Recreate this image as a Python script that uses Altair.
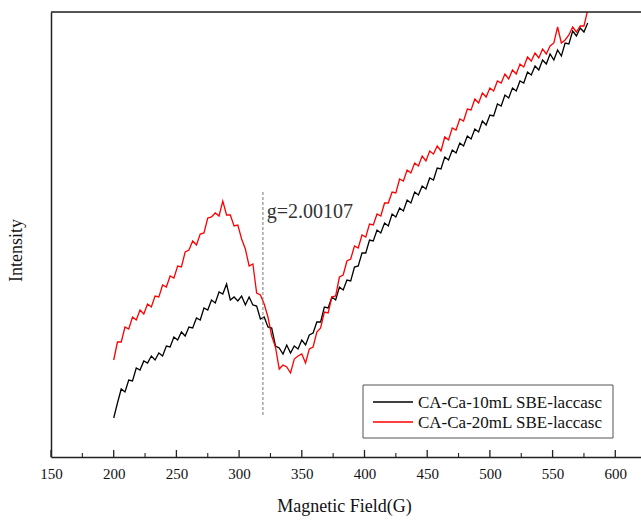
import altair as alt
import pandas as pd

# Magnetic field grid (G)
field = list(range(200, 579, 3))

# EPR intensity (arbitrary units)
black = [39, 54, 68, 65, 77, 76, 89, 87, 96, 94,
         101, 97, 104, 101, 111, 110, 120, 117, 125, 121,
         130, 129, 139, 137, 149, 147, 157, 154, 165, 163,
         173, 157, 160, 156, 161, 152, 160, 152, 151, 138,
         140, 130, 129, 111, 109, 103, 112, 104, 111, 108,
         117, 112, 122, 124, 135, 135, 150, 149, 160, 157,
         170, 167, 177, 176, 190, 191, 204, 204, 217, 216,
         227, 224, 234, 231, 243, 240, 249, 246, 257, 254,
         265, 262, 271, 268, 279, 277, 289, 288, 300, 297,
         307, 304, 314, 311, 321, 318, 328, 325, 336, 332,
         342, 341, 353, 351, 362, 359, 369, 366, 376, 374,
         385, 382, 391, 387, 397, 393, 403, 397, 407, 401,
         414, 413, 426, 421, 429, 425, 434]

red = [97, 115, 115, 130, 128, 140, 137, 147, 143, 153,
       150, 161, 160, 172, 170, 181, 179, 191, 190, 205,
       207, 216, 212, 223, 224, 239, 240, 244, 241, 256,
       242, 242, 231, 232, 218, 208, 191, 193, 164, 162,
       153, 140, 121, 110, 88, 92, 90, 84, 98, 101,
       103, 94, 108, 110, 125, 129, 145, 144, 160, 161,
       180, 182, 196, 198, 211, 209, 222, 220, 233, 232,
       243, 241, 254, 254, 265, 264, 278, 276, 287, 284,
       294, 291, 301, 296, 306, 303, 311, 306, 320, 317,
       329, 327, 338, 336, 348, 347, 358, 354, 364, 360,
       369, 366, 376, 374, 383, 378, 387, 383, 393, 390,
       400, 396, 404, 399, 408, 403, 411, 414, 430, 414,
       417, 422, 430, 425, 431, 431, 447]

series_names = ["CA-Ca-10mL SBE-laccasc", "CA-Ca-20mL SBE-laccasc"]
series_colors = ["#000000", "#ff0000"]

major_ticks = [150, 200, 250, 300, 350, 400, 450, 500, 550, 600]
minor_ticks = [175, 225, 275, 325, 375, 425, 475, 525, 575]

g_field = [319]
g_low = [42]
g_high = [265]
g_label = ["g=2.00107"]
g_label_field = [322]
g_label_int = [245]

FONT = "Liberation Serif"
W, H = 590, 445
FRAME = "#222222"

df = pd.DataFrame({
    "field": field + field,
    "intensity": black + red,
    "series": [series_names[0]] * len(field) + [series_names[1]] * len(field),
})

xs = alt.Scale(domain=[150, 620.5], nice=False, zero=False)
ys = alt.Scale(domain=[0, 445], nice=False, zero=False)

xaxis = alt.Axis(
    values=major_ticks, title="Magnetic Field(G)", ticks=False, grid=False,
    labelFont=FONT, labelFontSize=15, labelColor="#111", labelFlush=False,
    labelPadding=9, domainColor=FRAME, domainWidth=1.5,
    titleFont=FONT, titleFontSize=18, titleFontWeight="normal", titleColor="#111",
    titlePadding=16, titleX=293)
yaxis = alt.Axis(
    title="Intensity", labels=False, ticks=False, grid=False,
    domainColor=FRAME, domainWidth=1.5,
    titleFont=FONT, titleFontSize=18, titleFontWeight="normal", titleColor="#111",
    titlePadding=26, titleY=238)

lines = alt.Chart(df).mark_line(strokeWidth=1.3, clip=True).encode(
    x=alt.X("field:Q", scale=xs, axis=xaxis),
    y=alt.Y("intensity:Q", scale=ys, axis=yaxis),
    color=alt.Color("series:N", scale=alt.Scale(domain=series_names, range=series_colors),
                    legend=None),
)

major = alt.Chart(pd.DataFrame({"field": major_ticks})).mark_rule(
    color=FRAME, strokeWidth=1.3).encode(
    x=alt.X("field:Q", scale=xs, axis=xaxis), y=alt.value(H), y2=alt.value(H - 7))

minor = alt.Chart(pd.DataFrame({"field": minor_ticks})).mark_rule(
    color=FRAME, strokeWidth=1.1).encode(
    x=alt.X("field:Q", scale=xs, axis=xaxis), y=alt.value(H), y2=alt.value(H - 4))

top_border = alt.Chart(pd.DataFrame({"a": [0]})).mark_rule(
    color=FRAME, strokeWidth=1.5).encode(
    x=alt.value(0), x2=alt.value(W), y=alt.value(0))

gline = alt.Chart(pd.DataFrame({"field": g_field, "intensity": g_low, "hi": g_high})).mark_rule(
    color="#777777", strokeWidth=1, strokeDash=[3, 2]).encode(
    x=alt.X("field:Q", scale=xs, axis=xaxis),
    y=alt.Y("intensity:Q", scale=ys, axis=yaxis), y2="hi:Q")

gtext = alt.Chart(pd.DataFrame({"field": g_label_field, "intensity": g_label_int, "t": g_label})).mark_text(
    align="left", baseline="middle", font=FONT, fontSize=20, color="#333333").encode(
    x=alt.X("field:Q", scale=xs, axis=xaxis),
    y=alt.Y("intensity:Q", scale=ys, axis=yaxis), text="t:N")

# legend drawn by hand (box, line keys and labels)
LX0, LX1, LY0, LY1 = 312, 562, 373, 426
legend_box = alt.Chart(pd.DataFrame({"a": [0]})).mark_rect(
    fill="white", stroke="#555555", strokeWidth=1).encode(
    x=alt.value(LX0), x2=alt.value(LX1), y=alt.value(LY0), y2=alt.value(LY1))

legend_layers = [legend_box]
for i, (name, col) in enumerate(zip(series_names, series_colors)):
    ry = 390 + 20 * i
    legend_layers.append(
        alt.Chart(pd.DataFrame({"s": [name]})).mark_rule(color=col, strokeWidth=1.5).encode(
            x=alt.value(322), x2=alt.value(362), y=alt.value(ry)))
    legend_layers.append(
        alt.Chart(pd.DataFrame({"s": [name]})).mark_text(
            align="left", baseline="middle", font=FONT, fontSize=17, color="#111111").encode(
            x=alt.value(367), y=alt.value(ry + 1), text="s:N"))

chart = alt.layer(lines, major, minor, top_border, gline, gtext, *legend_layers).properties(
    width=W, height=H, autosize="none",
    padding={"left": 51, "top": 12, "right": 0, "bottom": 63},
).configure_view(stroke=None).configure(background="white")

chart.save("out.html", embed_options={"renderer": "svg", "actions": False})
